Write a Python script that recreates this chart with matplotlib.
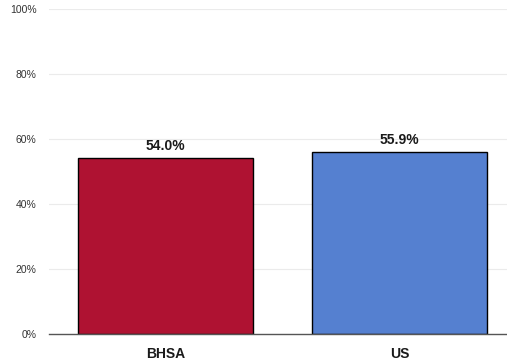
import matplotlib
matplotlib.use('Agg')
import matplotlib.pyplot as plt
from matplotlib.ticker import PercentFormatter

categories = ['BHSA', 'US']
values = [54.0, 55.9]
colors = ['#AF1232', '#5580D0']
yticks = [0, 20, 40, 60, 80, 100]

plt.rcParams['font.family'] = ['Liberation Sans', 'DejaVu Sans']

fig = plt.figure(figsize=(5.07, 3.64), dpi=100)
ax = fig.add_axes([49 / 507, (364 - 334) / 364, 458 / 507, 325 / 364])

x = range(len(categories))
bars = ax.bar(x, values, width=0.748, color=colors, edgecolor='black', linewidth=1, zorder=3)

for b, v in zip(bars, values):
    ax.annotate(f'{v:.1f}%', (b.get_x() + b.get_width() / 2, v), xytext=(0, 4),
                textcoords='offset points', ha='center', va='bottom',
                fontsize=10, fontweight='bold', color='#1a1a1a')

ax.set_xlim(-0.498, 1.459)
ax.set_ylim(0, 100)
ax.set_yticks(yticks)
ax.yaxis.set_major_formatter(PercentFormatter(decimals=0))
ax.set_xticks(list(x))
ax.set_xticklabels(categories, fontsize=10, fontweight='bold', color='#1a1a1a')
ax.tick_params(axis='y', length=0, labelsize=7.5, labelcolor='#333333', pad=9)
ax.tick_params(axis='x', length=0, pad=9)

ax.grid(axis='y', color='#ebebeb', linewidth=0.8, zorder=0)
for s in ['top', 'right', 'left']:
    ax.spines[s].set_visible(False)
ax.spines['bottom'].set_color('#555555')
ax.spines['bottom'].set_linewidth(1)
ax.spines['bottom'].set_zorder(4)

fig.savefig('out.png', dpi=100)
